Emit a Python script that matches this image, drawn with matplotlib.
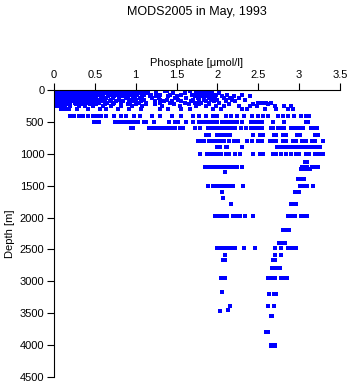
import matplotlib
matplotlib.use("Agg")
import matplotlib.pyplot as plt
import numpy as np

plt.rcParams["font.family"] = ["Liberation Sans", "DejaVu Sans"]

# sampling depths [m]
depth_levels = [
    0, 10, 20, 30, 50, 75, 100, 125, 150, 175, 200, 225, 250, 300, 400,
    500, 600, 700, 800, 900, 1000, 1130, 1200, 1240, 1290, 1400, 1500,
    1600, 1690, 1780, 1970, 2190, 2400, 2480, 2590, 2670, 2790, 2950,
    3170, 3200, 3380, 3450, 3460, 3540, 3790, 4000, 4010,
]

# phosphate [umol/l] measured at each depth level
phosphate_levels = [
    [0.0, 0.04, 0.07, 0.1, 0.14, 0.17, 0.2, 0.24, 0.27, 0.31, 0.34, 0.38, 0.41, 0.45, 0.48, 0.52,
     0.57, 0.63, 0.68, 0.74, 0.8, 0.86, 0.93, 1.0],
    [0.02, 0.05, 0.09, 0.12, 0.16, 0.19, 0.23, 0.26, 0.3, 0.33, 0.37, 0.4, 0.44, 0.47, 0.51, 0.55,
     0.6, 0.66, 0.71, 0.77, 0.84, 0.9, 0.97, 1.08, 1.38, 1.66, 1.78, 1.84, 1.9],
    [0.0, 0.03, 0.06, 0.1, 0.13, 0.17, 0.21, 0.25, 0.28, 0.32, 0.36, 0.39, 0.43, 0.46, 0.5, 0.54,
     0.59, 0.65, 0.72, 0.79, 0.88, 0.96, 1.04, 1.13, 1.36, 1.76, 1.8, 1.86, 1.92],
    [0.01, 0.05, 0.08, 0.11, 0.15, 0.18, 0.22, 0.26, 0.29, 0.33, 0.36, 0.4, 0.44, 0.48, 0.53, 0.58,
     0.62, 0.69, 0.75, 0.83, 0.92, 1.0, 1.1, 1.74, 1.82, 1.88],
    [0.0, 0.04, 0.07, 0.11, 0.14, 0.18, 0.22, 0.25, 0.29, 0.32, 0.36, 0.4, 0.43, 0.47, 0.5, 0.56,
     0.61, 0.67, 0.73, 0.81, 0.89, 0.95, 1.06, 1.15, 1.25, 1.46, 1.6, 1.78, 1.85, 1.93, 2.02],
    [0.02, 0.06, 0.09, 0.13, 0.16, 0.2, 0.23, 0.27, 0.31, 0.34, 0.38, 0.42, 0.45, 0.49, 0.55, 0.6,
     0.7, 0.78, 0.87, 0.94, 1.02, 1.1, 1.19, 1.3, 1.42, 1.55, 1.69, 1.76, 1.83, 1.9, 1.98,
     2.12, 2.3],
    [0.0, 0.04, 0.08, 0.12, 0.15, 0.19, 0.22, 0.26, 0.3, 0.33, 0.37, 0.41, 0.44, 0.48, 0.52, 0.6,
     0.66, 0.74, 0.83, 0.9, 0.99, 1.08, 1.17, 1.25, 1.4, 1.5, 1.72, 1.8, 1.88, 1.95,
     2.05, 2.2, 2.4],
    [0.01, 0.05, 0.09, 0.13, 0.17, 0.2, 0.24, 0.28, 0.31, 0.35, 0.39, 0.43, 0.47, 0.5, 0.57, 0.64,
     0.72, 0.8, 0.88, 0.97, 1.05, 1.2, 1.28, 1.48, 1.62, 1.76, 1.83, 1.9, 1.97, 2.08, 2.15,
     2.26],
    [0.0, 0.03, 0.07, 0.1, 0.14, 0.18, 0.21, 0.25, 0.29, 0.32, 0.36, 0.4, 0.46, 0.53, 0.62, 0.7,
     0.79, 0.92, 1.0, 1.1, 1.3, 1.38, 1.52, 1.7, 1.77, 1.84, 1.92, 2.0, 2.1, 2.18, 2.34],
    [0.02, 0.06, 0.1, 0.13, 0.17, 0.2, 0.24, 0.28, 0.35, 0.42, 0.5, 0.58, 0.68, 0.76, 0.85, 0.95,
     1.06, 1.24, 1.35, 1.44, 1.56, 1.68, 1.78, 1.86, 1.96, 2.1, 2.22],
    [0.0, 0.04, 0.08, 0.12, 0.16, 0.2, 0.26, 0.32, 0.4, 0.47, 0.55, 0.65, 0.74, 0.82, 0.93, 1.04,
     1.13, 1.3, 1.42, 1.6, 1.72, 1.8, 1.9, 2.02, 2.5, 2.55, 2.6, 2.66],
    [0.03, 0.07, 0.11, 0.15, 0.19, 0.27, 0.36, 0.44, 0.52, 0.62, 0.72, 0.9, 1.0, 1.12, 1.24, 1.47,
     1.65, 1.78, 1.9, 2.14, 2.44, 2.62],
    [0.0, 0.05, 0.1, 0.14, 0.2, 0.3, 0.38, 0.48, 0.6, 0.7, 0.82, 0.96, 1.08, 1.32, 1.54, 1.74,
     1.86, 1.98, 2.08, 2.27, 2.4, 2.48, 2.7, 2.82, 2.9],
    [0.08, 0.13, 0.18, 0.28, 0.42, 0.56, 0.64, 0.78, 0.92, 1.06, 1.3, 1.4, 1.56, 1.66, 1.94, 2.04,
     2.3, 2.36, 2.58, 2.72, 2.86, 2.92],
    [0.2, 0.24, 0.3, 0.36, 0.42, 0.48, 0.53, 0.58, 0.64, 0.74, 0.82, 0.88, 0.98, 1.05, 1.2,
     1.3, 1.45, 1.55, 1.7, 1.78, 1.86, 1.94, 2.0, 2.1, 2.16, 2.24, 2.32, 2.42, 2.5, 2.56, 2.62,
     2.74, 2.8, 2.86, 2.94, 3.02, 3.08, 3.12],
    [0.49, 0.52, 0.55, 0.75, 0.78, 0.81, 0.84, 0.87, 0.9, 0.96, 0.99, 1.03, 1.1, 1.13, 1.22,
     1.41, 1.48, 1.52, 1.61, 1.7, 1.77, 1.8, 1.84, 1.88, 1.92, 1.96, 2.0, 2.05, 2.1, 2.15, 2.2,
     2.24, 2.3, 2.41, 2.45, 2.5, 2.55, 2.68, 2.82, 3.08, 3.11],
    [0.94, 0.97, 1.16, 1.2, 1.24, 1.28, 1.32, 1.36, 1.4, 1.44, 1.48, 1.54, 1.58, 1.73, 1.79, 1.88,
     1.92, 1.96, 2.0, 2.04, 2.08, 2.13, 2.18, 2.22, 2.29, 2.35, 2.41, 2.46, 2.5, 2.54, 2.65, 2.68,
     2.74, 2.78, 2.82, 2.9, 2.94, 2.98, 3.02, 3.05, 3.14, 3.18, 3.22],
    [1.86, 1.9, 2.0, 2.04, 2.08, 2.12, 2.15, 2.44, 2.52, 2.56, 2.69, 2.72, 2.8, 2.84, 2.97, 3.01,
     3.2, 3.23],
    [1.76, 1.8, 1.84, 1.9, 1.94, 2.0, 2.04, 2.08, 2.14, 2.2, 2.25, 2.36, 2.42, 2.5, 2.55, 2.64,
     2.68, 2.72, 2.8, 2.84, 2.92, 2.96, 3.04, 3.08, 3.16, 3.2, 3.29],
    [2.0, 2.03, 2.1, 2.12, 2.3, 2.73, 2.76, 2.79, 2.84, 2.89, 2.93, 2.97, 3.0, 3.04, 3.07, 3.11,
     3.14, 3.19, 3.22, 3.26],
    [1.79, 1.87, 1.9, 1.94, 2.0, 2.04, 2.1, 2.14, 2.22, 2.28, 2.44, 2.52, 2.56, 2.68, 2.72, 2.78,
     2.84, 2.9, 2.96, 3.0, 3.08, 3.12, 3.2, 3.24, 3.29],
    [3.07, 3.1],
    [1.85, 1.88, 1.92, 1.95, 2.0, 2.03, 2.06, 2.09, 2.12, 2.15, 2.19, 2.24, 2.3, 3.04, 3.07, 3.1,
     3.16, 3.2, 3.23],
    [3.02, 3.06, 3.1, 3.13],
    [2.09],
    [2.99, 3.02, 3.06],
    [1.89, 1.95, 1.99, 2.03, 2.07, 2.11, 2.15, 2.19, 2.31, 3.01, 3.04, 3.07, 3.1, 3.17],
    [2.06, 2.95, 3.0],
    [2.07],
    [2.17, 2.9, 2.93, 2.96],
    [1.97, 2.0, 2.04, 2.08, 2.12, 2.19, 2.23, 2.28, 2.34, 2.44, 2.86, 2.9, 2.95, 3.02, 3.06, 3.1],
    [2.8, 2.84, 2.88],
    [2.75, 2.79, 2.83],
    [2.0, 2.03, 2.06, 2.09, 2.12, 2.15, 2.18, 2.22, 2.32, 2.46, 2.71, 2.78, 2.86, 2.88, 2.92, 2.96],
    [2.09, 2.7, 2.78],
    [2.07, 2.09, 2.68, 2.7],
    [2.67, 2.69, 2.74, 2.77],
    [2.04, 2.06, 2.09, 2.62, 2.66, 2.71, 2.78, 2.81, 2.85],
    [2.06],
    [2.63, 2.69, 2.72],
    [2.15, 2.62, 2.69],
    [2.13],
    [2.03],
    [2.65, 2.67],
    [2.6, 2.62],
    [2.65, 2.68, 2.71],
    [2.66, 2.7],
]

x_ticks = [0, 0.5, 1, 1.5, 2, 2.5, 3, 3.5]
x_tick_labels = ["0", "0.5", "1", "1.5", "2", "2.5", "3", "3.5"]
y_ticks = [0, 500, 1000, 1500, 2000, 2500, 3000, 3500, 4000, 4500]

depth = []
phosphate = []
for d, vals in zip(depth_levels, phosphate_levels):
    depth += [d] * len(vals)
    phosphate += vals
depth = np.array(depth)
phosphate = np.array(phosphate)

fig = plt.figure(figsize=(3.5, 3.84), dpi=100)
ax = fig.add_axes([54 / 350, 1 - 377 / 384, 286 / 350, 287 / 384])

ax.plot(phosphate, depth, "s", color="#0000ff", markersize=2.2,
        markeredgewidth=0, antialiased=False)

ax.set_xlim(0, 3.5)
ax.set_ylim(4500, 0)
ax.xaxis.tick_top()
ax.xaxis.set_label_position("top")
ax.spines["right"].set_visible(False)
ax.spines["bottom"].set_visible(False)
for s in ("top", "left"):
    ax.spines[s].set_linewidth(0.8)

ax.set_xticks(x_ticks)
ax.set_xticklabels(x_tick_labels)
ax.set_yticks(y_ticks)
ax.tick_params(direction="out", length=5, width=0.8, labelsize=8, pad=2)

ax.set_xlabel("Phosphate [\u03bcmol/l]", fontsize=8, labelpad=3)
ax.set_ylabel("Depth [m]", fontsize=8, labelpad=3)

fig.text(197 / 350, 1 - 12 / 384, "MODS2005 in May, 1993", ha="center", va="center", fontsize=9)

fig.savefig("out.png", dpi=100)
